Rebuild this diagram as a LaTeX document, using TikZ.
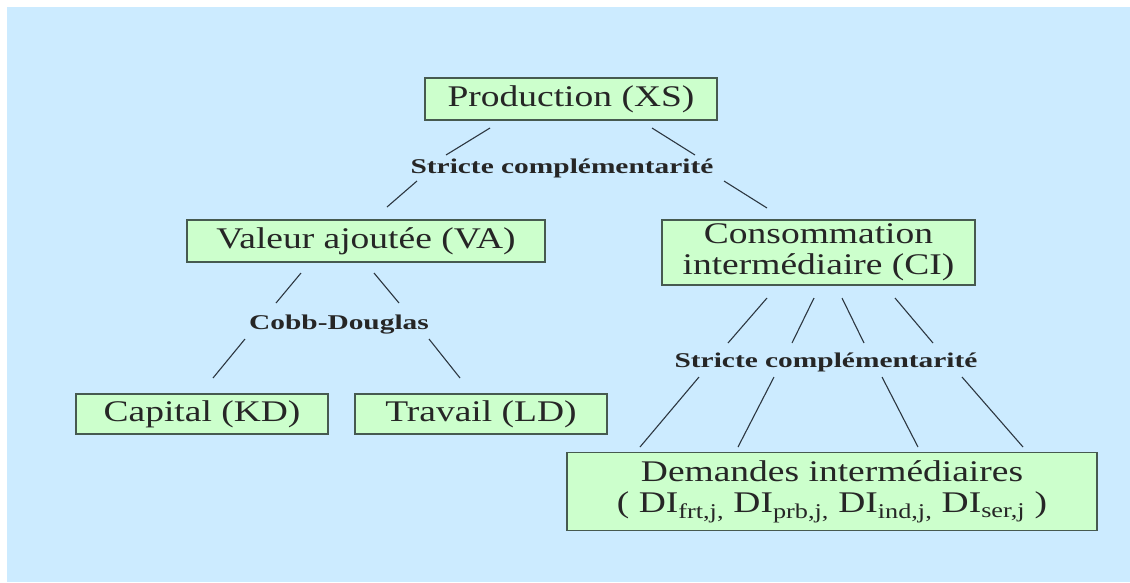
\documentclass[tikz,border=0pt]{standalone}
\usepackage{fontspec}
\setmainfont{Liberation Serif}
\newfontfamily\boxfont[FakeStretch=1.25]{Liberation Serif}
\newfontfamily\lblfont[FakeStretch=1.4]{Liberation Serif Bold}
\definecolor{bg}{RGB}{204,235,255}
\definecolor{boxfill}{RGB}{204,255,204}
\definecolor{boxline}{RGB}{70,90,80}
\definecolor{connc}{RGB}{45,55,65}
\tikzset{
  stepbox/.style={draw=boxline, fill=boxfill, line width=1.5pt, inner sep=0pt, align=center,
    font=\boxfont\fontsize{30}{31}\selectfont, text=black!85},
  lbl/.style={inner sep=0pt, font=\lblfont\fontsize{21}{22}\selectfont, text=black!85},
  conn/.style={draw=connc, line width=1.1pt}
}
\begin{document}
\begin{tikzpicture}[x=1pt,y=-1pt]
\fill[white] (0,0) rectangle (1130,582);
\fill[bg] (7,7) rectangle (1130,582);
\useasboundingbox (0,0) rectangle (1130,582);

\node[stepbox, minimum width=292pt, minimum height=42pt] (prod) at (571,99) {Production (XS)};
\node[stepbox, minimum width=358pt, minimum height=42pt] (va) at (366,241) {Valeur ajoutée (VA)};
\node[stepbox, minimum width=313pt, minimum height=65pt] (ci) at (818.5,252.5) {Consommation\\intermédiaire (CI)};
\node[stepbox, minimum width=252pt, minimum height=40pt] (kd) at (202,414) {Capital (KD)};
\node[stepbox, minimum width=252pt, minimum height=40pt] (ld) at (481,414) {Travail (LD)};
\node[stepbox, minimum width=530pt, minimum height=78pt] (di) at (832,491.5)
  {Demandes intermédiaires\\( DI\textsubscript{frt,j,} DI\textsubscript{prb,j,} DI\textsubscript{ind,j,} DI\textsubscript{ser,j} )};

\node[lbl] (sc1) at (562,168) {Stricte complémentarité};
\node[lbl] (cd) at (339,325) {Cobb-Douglas};
\node[lbl] (sc2) at (826,362) {Stricte complémentarité};

% Production -> VA / CI
\draw[conn] (490,128) -- (446,155);
\draw[conn] (652,128) -- (695,155);
\draw[conn] (417,181) -- (387,207);
\draw[conn] (724,181) -- (767,208);
% VA -> KD / LD
\draw[conn] (301,273) -- (276,303);
\draw[conn] (374,273) -- (399,303);
\draw[conn] (245,339) -- (213,378);
\draw[conn] (429,339) -- (460,378);
% CI -> DI
\draw[conn] (767,298) -- (728,343);
\draw[conn] (814,298) -- (792,343);
\draw[conn] (842,298) -- (864,343);
\draw[conn] (895,298) -- (933,343);
\draw[conn] (699,377) -- (640,447);
\draw[conn] (774,377) -- (738,447);
\draw[conn] (882,377) -- (918,447);
\draw[conn] (962,377) -- (1023,447);
\end{tikzpicture}
\end{document}
